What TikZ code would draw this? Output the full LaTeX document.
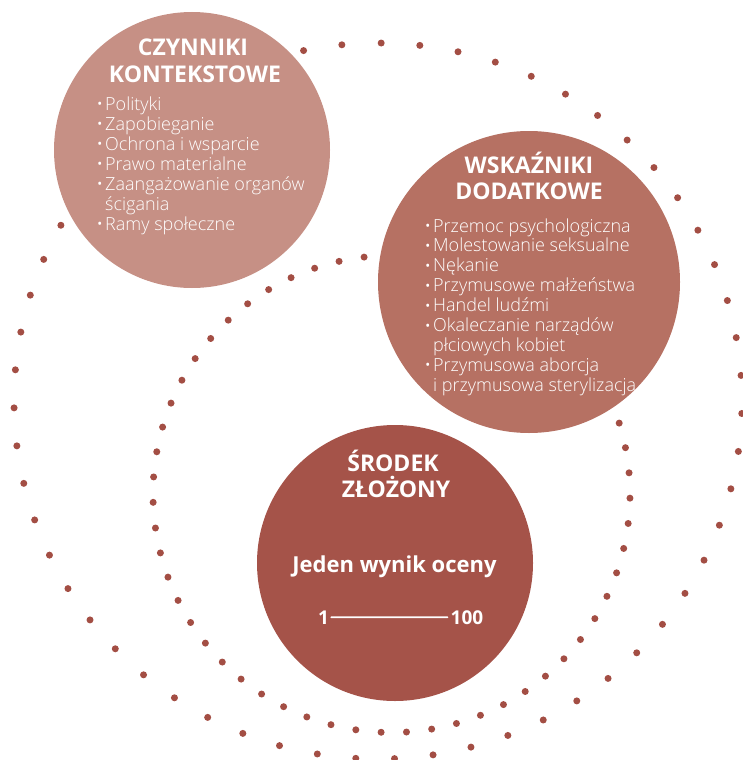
\documentclass[tikz,border=0pt]{standalone}
\usepackage{fontspec}
\setmainfont{Open Sans}
\newfontfamily\lightfont{Open Sans Light}
\definecolor{dotred}{RGB}{163,78,68}
\definecolor{ctxpink}{RGB}{198,144,133}
\definecolor{addrose}{RGB}{182,113,99}
\definecolor{compred}{RGB}{165,83,73}
\newcommand\bul{\llap{\raisebox{.15ex}{\rmfamily\fontsize{13}{13}\selectfont •}\hspace{3pt}}}
\tikzset{
  blob/.style={circle, inner sep=0pt, minimum size=#1},
  headline/.style={font=\bfseries\fontsize{23}{26}\selectfont, text=white, anchor=base, inner sep=0pt},
  item/.style={font=\lightfont\fontsize{18}{20}\selectfont, text=white, anchor=base west, inner sep=0pt},
  digits/.style={font=\bfseries\fontsize{19}{20}\selectfont, text=white, anchor=base, inner sep=1pt}
}
\begin{document}
\begin{tikzpicture}[x=1pt,y=-1pt]
\useasboundingbox (0,0) rectangle (742,760);
% outer ring of dots
\foreach \a in {0,...,58}
  \fill[dotred] ({378+364*cos(-89.5+\a*6.1)},{401+358*sin(-89.5+\a*6.1)}) circle (3.5pt);
% inner ring of dots
\foreach \a in {0,...,58}
  \fill[dotred] ({391.5+238.5*cos(178+\a*6.1)},{494+238.5*sin(178+\a*6.1)}) circle (3.5pt);
% the three discs
\node[blob=276pt, fill=ctxpink] (ctx) at (192,150) {};
\node[blob=302pt, fill=addrose] (add) at (529,282) {};
\node[blob=276pt, fill=compred] (comp) at (395,563) {};
% contextual factors
\node[headline] (ctxa) at (193,56) {CZYNNIKI};
\node[headline] (ctxb) at (195,82) {KONTEKSTOWE};
\foreach \txt [count=\k] in {\bul Polityki, \bul Zapobieganie, \bul Ochrona i wsparcie,
    \bul Prawo materialne, \bul Zaangażowanie organów, ścigania, \bul Ramy społeczne}
  \node[item] (ctx\k) at (105,{90+20*\k}) {\txt};
% additional indicators
\node[headline] (adda) at (529,173) {WSKAŹNIKI};
\node[headline] (addb) at (529,199) {DODATKOWE};
\foreach \txt [count=\k] in {\bul Przemoc psychologiczna, \bul Molestowanie seksualne, \bul Nękanie,
    \bul Przymusowe małżeństwa, \bul Handel ludźmi, \bul Okaleczanie narządów, płciowych kobiet,
    \bul Przymusowa aborcja, i przymusowa sterylizacja}
  \node[item] (add\k) at (433,{212.1+19.9*\k}) {\txt};
% composite measure
\node[headline] (compa) at (393,471) {ŚRODEK};
\node[headline] (compb) at (396,497) {ZŁOŻONY};
\node[headline, font=\bfseries\fontsize{22}{24}\selectfont] (score) at (394.5,572) {Jeden wynik oceny};
\node[digits] (lo) at (323.5,624) {1};
\node[digits] (hi) at (467,624) {100};
\draw[white, line width=1.6pt, line cap=round, shorten <=1pt, shorten >=2pt] (lo.east) -- (hi.west);
\end{tikzpicture}
\end{document}
